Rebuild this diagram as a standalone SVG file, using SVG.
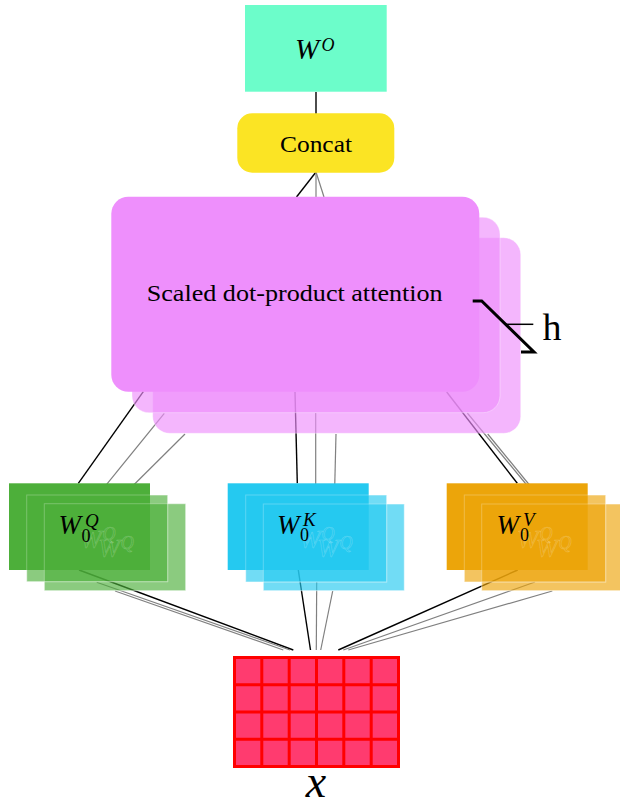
<svg xmlns="http://www.w3.org/2000/svg" width="620" height="808" viewBox="0 0 620 808">
<defs>
<style>
.serif{font-family:"Liberation Serif","Times New Roman",serif;fill:#000}
.it{font-style:italic}
.blk{stroke:#000;stroke-width:1.4;fill:none}
.gry{stroke:#808080;stroke-width:1.2;fill:none}
.copy{fill-opacity:.65;stroke:#fff;stroke-opacity:.35;stroke-width:1}
.edge{fill:none;stroke:#fff;stroke-opacity:.25;stroke-width:1}
.ghost{font-family:"Liberation Serif","Times New Roman",serif;font-style:italic;fill:none;stroke:#fff;stroke-opacity:.22;stroke-width:.7}
</style>
</defs>
<rect width="620" height="808" fill="#fff"/>

<g id="connectors">
<line class="blk" x1="316" y1="92" x2="316" y2="114"/>
<line class="blk" x1="316" y1="172" x2="296.5" y2="197"/>
<line class="gry" x1="316" y1="172" x2="316" y2="197"/>
<line class="gry" x1="316" y1="172" x2="324" y2="197"/>

<line class="blk" x1="143.3" y1="391.7" x2="78.3" y2="483.3"/>
<line class="gry" x1="164.3" y1="413.3" x2="98.3" y2="494.7"/>
<line class="gry" x1="185" y1="434" x2="115" y2="503.5"/>

<line class="blk" x1="295" y1="392" x2="297.3" y2="483.3"/>
<line class="gry" x1="315.7" y1="413" x2="315.7" y2="495"/>
<line class="gry" x1="336" y1="434" x2="334.3" y2="504"/>

<line class="blk" x1="446.7" y1="392" x2="517.3" y2="483.3"/>
<line class="gry" x1="467.3" y1="413" x2="535" y2="495"/>
<line class="gry" x1="487.7" y1="434" x2="545" y2="504"/>

<line class="blk" x1="79" y1="570" x2="293.3" y2="650"/>
<line class="gry" x1="96.7" y1="582.3" x2="290" y2="650"/>
<line class="gry" x1="115" y1="591" x2="283.3" y2="650"/>

<line class="blk" x1="298.3" y1="570" x2="310.5" y2="650"/>
<line class="gry" x1="316.7" y1="582" x2="316.3" y2="650"/>
<line class="gry" x1="332.7" y1="591" x2="320.7" y2="650"/>

<line class="blk" x1="517.7" y1="570" x2="338.3" y2="650"/>
<line class="gry" x1="535" y1="582" x2="343.3" y2="650"/>
<line class="gry" x1="552.3" y1="591" x2="348.3" y2="650"/>
</g>

<g id="WO">
<rect x="245" y="5" width="141.7" height="86.7" fill="#6CFDCA"/>
<text class="serif it" x="295" y="59" font-size="29">W</text>
<text class="serif it" x="321.5" y="50.5" font-size="18">O</text>
</g>

<g id="concat">
<rect x="237.3" y="113.3" width="157" height="59.4" rx="15" fill="#FBE424"/>
<text class="serif" x="316" y="151.5" font-size="23" text-anchor="middle" textLength="72" lengthAdjust="spacingAndGlyphs">Concat</text>
</g>

<g id="attention">
<rect class="copy" x="152.7" y="237.7" width="368" height="195.6" rx="17" fill="#EE8FFC"/>
<rect class="copy" x="132" y="217.3" width="368" height="195.4" rx="17" fill="#EE8FFC"/>
<rect x="111.3" y="196.7" width="368" height="195" rx="17" fill="#EE8FFC"/>
<text class="serif" x="294.7" y="301" font-size="23" text-anchor="middle" textLength="296" lengthAdjust="spacingAndGlyphs">Scaled dot-product attention</text>
</g>

<g id="heads">
<path d="M472.7,301 H481.7 L534,352 H521" fill="none" stroke="#000" stroke-width="3"/>
<line x1="505" y1="324.3" x2="533.3" y2="324.3" stroke="#000" stroke-width="1.5"/>
<text class="serif" x="542.5" y="340" font-size="38">h</text>
</g>

<g id="WQ">
<rect class="copy" x="44.3" y="503.7" width="141.4" height="87" fill="#4DAF3A"/>
<rect class="copy" x="26.7" y="495" width="141" height="86.7" fill="#4DAF3A"/>
<rect x="9" y="483.3" width="141" height="86.7" fill="#4DAF3A"/>
<rect class="edge" x="26.7" y="495" width="141" height="86.7"/>
<rect class="edge" x="44.3" y="503.7" width="141.4" height="87"/>
<text class="ghost" x="80" y="548" font-size="26">W</text>
<text class="ghost" x="102.5" y="540" font-size="18">Q</text>
<text class="ghost" x="98.3" y="557" font-size="26">W</text>
<text class="ghost" x="120.8" y="549" font-size="18">Q</text>
<text class="serif it" x="58.5" y="534" font-size="27">W</text>
<text class="serif" x="81.5" y="541.7" font-size="18">0</text>
<text class="serif it" x="85" y="527" font-size="19">Q</text>
</g>

<g id="WK">
<rect class="copy" x="263.3" y="504" width="141" height="86.7" fill="#25C9F0"/>
<rect class="copy" x="245.7" y="495" width="141" height="87" fill="#25C9F0"/>
<rect x="227.7" y="483.3" width="141" height="86.7" fill="#25C9F0"/>
<rect class="edge" x="245.7" y="495" width="141" height="87"/>
<rect class="edge" x="263.3" y="504" width="141" height="86.7"/>
<text class="ghost" x="299" y="548" font-size="26">W</text>
<text class="ghost" x="321.5" y="540" font-size="18">Q</text>
<text class="ghost" x="317" y="557" font-size="26">W</text>
<text class="ghost" x="339.5" y="549" font-size="18">Q</text>
<text class="serif it" x="277" y="533.5" font-size="27">W</text>
<text class="serif" x="300" y="541" font-size="18">0</text>
<text class="serif it" x="303" y="526" font-size="19">K</text>
</g>

<g id="WV">
<rect class="copy" x="481.7" y="504" width="141" height="86.7" fill="#ECA50A"/>
<rect class="copy" x="464.3" y="495" width="141.4" height="87" fill="#ECA50A"/>
<rect x="446.7" y="483.3" width="141" height="86.7" fill="#ECA50A"/>
<rect class="edge" x="464.3" y="495" width="141.4" height="87"/>
<rect class="edge" x="481.7" y="504" width="141" height="86.7"/>
<text class="ghost" x="517" y="548" font-size="26">W</text>
<text class="ghost" x="539.5" y="540" font-size="18">Q</text>
<text class="ghost" x="536" y="557" font-size="26">W</text>
<text class="ghost" x="558.5" y="549" font-size="18">Q</text>
<text class="serif it" x="496.5" y="533.5" font-size="27">W</text>
<text class="serif" x="520" y="541" font-size="18">0</text>
<text class="serif it" x="523" y="526" font-size="19">V</text>
</g>

<g id="x">
<rect x="234.5" y="657.5" width="164" height="109" fill="#FF3B6F"/>
<g stroke="#FF0000" stroke-width="3" fill="none">
<rect x="234.5" y="657.5" width="164" height="109"/>
<path d="M261.8,657.5V766.5M289.2,657.5V766.5M316.5,657.5V766.5M343.8,657.5V766.5M371.2,657.5V766.5M234.5,684.7H398.5M234.5,712H398.5M234.5,739.2H398.5"/>
</g>
<text class="serif it" x="316" y="797" font-size="46" text-anchor="middle">x</text>
</g>
</svg>
